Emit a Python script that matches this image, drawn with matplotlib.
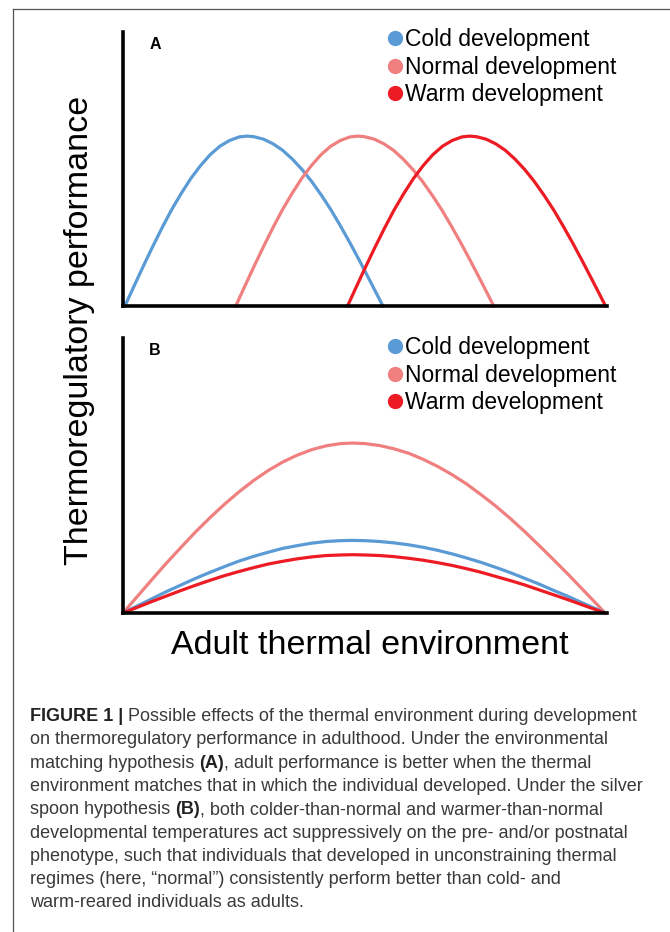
import matplotlib
matplotlib.use("Agg")
import matplotlib.pyplot as plt
from matplotlib.lines import Line2D

plt.rcParams['font.family'] = ['Liberation Sans', 'DejaVu Sans']

# colours of the three development groups
COLD = '#5b9bd5'
NORMAL = '#f08080'
WARM = '#ed1c24'
labels = ['Cold development', 'Normal development', 'Warm development']

# panel A - environmental matching (x: adult environment 0-100, y: performance 0-100)
a_cold_x = [0.4, 2, 4, 6, 8, 10, 12, 14, 16, 18, 20, 22, 24, 25.6,
            27, 29, 31, 33, 35, 37, 39, 41, 43, 45, 47, 49, 51, 53.7]
a_cold_y = [0, 6.2, 13.8, 21.2, 28.3, 35.0, 41.0, 46.5, 51.2, 55.2, 58.3, 60.4, 61.7, 62,
            61.8, 60.9, 59.2, 56.8, 53.6, 49.8, 45.4, 40.4, 35.0, 29.0, 22.7, 16.1, 9.3, 0]
a_norm_x = [23.3, 24.9, 26.9, 28.9, 30.9, 32.9, 34.9, 36.9, 38.9, 40.9, 42.9, 44.9, 46.9, 48.5,
            49.9, 51.9, 53.9, 55.9, 57.9, 59.9, 61.9, 63.9, 65.9, 67.9, 69.9, 71.9, 73.9, 76.6]
a_norm_y = [0, 6.2, 13.8, 21.2, 28.3, 35.0, 41.0, 46.5, 51.2, 55.2, 58.3, 60.4, 61.7, 62,
            61.8, 60.9, 59.2, 56.8, 53.6, 49.8, 45.4, 40.4, 35.0, 29.0, 22.7, 16.1, 9.3, 0]
a_warm_x = [46.4, 48, 50, 52, 54, 56, 58, 60, 62, 64, 66, 68, 70, 71.6,
            73, 75, 77, 79, 81, 83, 85, 87, 89, 91, 93, 95, 97, 99.7]
a_warm_y = [0, 6.2, 13.8, 21.2, 28.3, 35.0, 41.0, 46.5, 51.2, 55.2, 58.3, 60.4, 61.7, 62,
            61.8, 60.9, 59.2, 56.8, 53.6, 49.8, 45.4, 40.4, 35.0, 29.0, 22.7, 16.1, 9.3, 0]

# panel B - silver spoon
b_x = [0, 3, 6, 9, 12, 15, 18, 21, 24, 27, 30, 33, 36, 39, 42, 45, 47.4,
       50, 53, 56, 59, 62, 65, 68, 71, 74, 77, 80, 83, 86, 89, 92, 95, 98, 99.6]
b_norm_y = [0, 6.1, 12.2, 18.2, 23.9, 29.5, 34.7, 39.6, 44.1, 48.2, 51.8, 54.9, 57.4, 59.4, 60.8, 61.6, 61.8,
            61.6, 60.9, 59.7, 58.1, 55.9, 53.3, 50.3, 46.9, 43.0, 38.9, 34.4, 29.6, 24.5, 19.3, 14.0, 8.5, 3.0, 0]
b_cold_y = [0, 2.6, 5.2, 7.8, 10.2, 12.6, 14.8, 16.9, 18.9, 20.6, 22.1, 23.5, 24.5, 25.4, 26.0, 26.3, 26.4,
            26.3, 26.0, 25.5, 24.8, 23.9, 22.8, 21.5, 20.0, 18.4, 16.6, 14.7, 12.6, 10.5, 8.2, 6.0, 3.6, 1.3, 0]
b_warm_y = [0, 2.1, 4.2, 6.2, 8.2, 10.1, 11.9, 13.6, 15.1, 16.5, 17.8, 18.8, 19.7, 20.4, 20.9, 21.1, 21.2,
            21.1, 20.9, 20.5, 19.9, 19.2, 18.3, 17.3, 16.1, 14.8, 13.3, 11.8, 10.2, 8.4, 6.6, 4.8, 2.9, 1.0, 0]

caption = [
    [("FIGURE 1 | ", True), ("Possible effects of the thermal environment during development", False)],
    [("on thermoregulatory performance in adulthood. Under the environmental", False)],
    [("matching hypothesis ", False), ("(A)", True), (", adult performance is better when the thermal", False)],
    [("environment matches that in which the individual developed. Under the silver", False)],
    [("spoon hypothesis ", False), ("(B)", True), (", both colder-than-normal and warmer-than-normal", False)],
    [("developmental temperatures act suppressively on the pre- and/or postnatal", False)],
    [("phenotype, such that individuals that developed in unconstraining thermal", False)],
    [("regimes (here, \u201cnormal\u201d) consistently perform better than cold- and", False)],
    [("warm-reared individuals as adults.", False)],
]

W, H = 670, 932
fig = plt.figure(figsize=(W / 100, H / 100), dpi=100)


def make_panel(bottom_px, top_px, letter, legend_top_px):
    left, right = 123, 607
    ax = fig.add_axes([left / W, 1 - bottom_px / H, (right - left) / W, (bottom_px - top_px) / H])
    ax.set_xlim(0, 100)
    ax.set_ylim(0, 100)
    for s in ['top', 'right']:
        ax.spines[s].set_visible(False)
    for s in ['left', 'bottom']:
        ax.spines[s].set_linewidth(2.6)
        ax.spines[s].set_color('black')
    ax.set_xticks([])
    ax.set_yticks([])
    ax.patch.set_alpha(0)
    ax.text(0.054, 0.953, letter, transform=ax.transAxes, fontsize=11.5, fontweight='bold',
            ha='left', va='center')
    handles = [Line2D([], [], ls='none', marker='o', markersize=10, color=c) for c in (COLD, NORMAL, WARM)]
    ax.legend(handles, labels, loc='upper left',
              bbox_to_anchor=(0.547, (bottom_px - legend_top_px) / (bottom_px - top_px)),
              frameon=False, fontsize=16.5, handlelength=0.6, handletextpad=0.15,
              labelspacing=0.2, borderpad=0, borderaxespad=0)
    return ax


axA = make_panel(306, 32, 'A', 28)
axA.plot(a_cold_x, a_cold_y, color=COLD, lw=2.3, clip_on=False)
axA.plot(a_norm_x, a_norm_y, color=NORMAL, lw=2.3, clip_on=False)
axA.plot(a_warm_x, a_warm_y, color=WARM, lw=2.3, clip_on=False)

axB = make_panel(613, 338, 'B', 336)
axB.plot(b_x, b_norm_y, color=NORMAL, lw=2.3, clip_on=False)
axB.plot(b_x, b_cold_y, color=COLD, lw=2.3, clip_on=False)
axB.plot(b_x, b_warm_y, color=WARM, lw=2.3, clip_on=False)

fig.text(80 / W, 1 - 330 / H, 'Thermoregulatory performance', rotation=90, fontsize=24.5,
         ha='center', va='center')
fig.text(370 / W, 1 - 645 / H, 'Adult thermal environment', fontsize=24.5, ha='center', va='center')

# frame around the figure block
fig.add_artist(Line2D([13 / W, 1], [1 - 9 / H, 1 - 9 / H], color='#555555', lw=0.9))
fig.add_artist(Line2D([13 / W, 13 / W], [0, 1 - 9 / H], color='#555555', lw=0.9))

# caption, line by line; bold pieces placed right after the plain ones
renderer = fig.canvas.get_renderer()
for i, parts in enumerate(caption):
    y = 1 - (721 + 23.3 * i) / H
    x = 30 / W
    for txt, bold in parts:
        t = fig.text(x, y, txt, fontsize=13.0, fontweight='bold' if bold else 'normal',
                     color='#222222' if bold else '#3a3a3a', va='baseline', ha='left')
        x += t.get_window_extent(renderer).width / W

fig.savefig('out.png', dpi=100)
